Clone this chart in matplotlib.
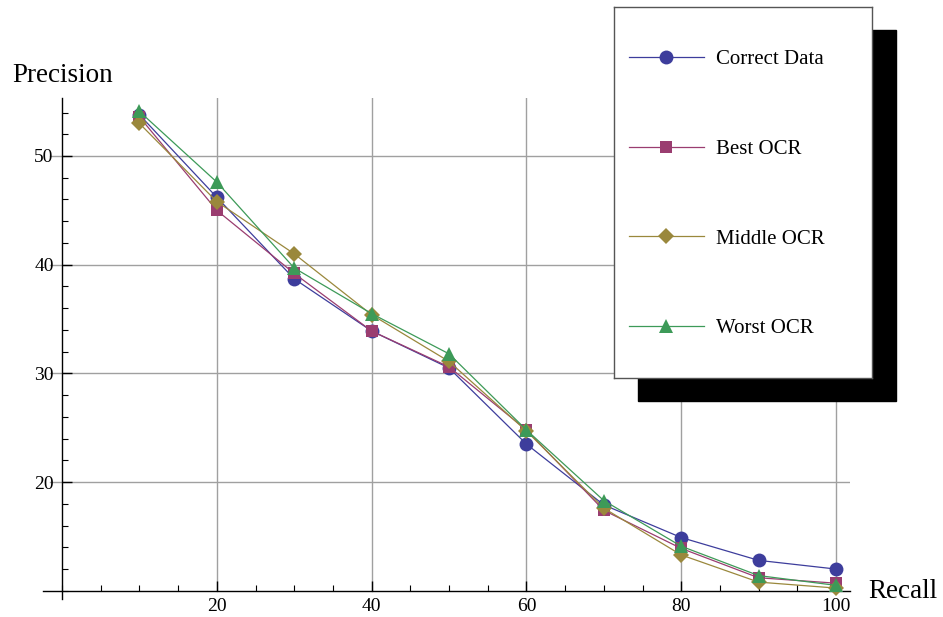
import matplotlib
matplotlib.use("Agg")
import matplotlib.pyplot as plt
from matplotlib.patches import Rectangle
from matplotlib.ticker import MultipleLocator

recall = [10, 20, 30, 40, 50, 60, 70, 80, 90, 100]
correct_data = [53.8, 46.2, 38.7, 33.9, 30.5, 23.5, 17.9, 14.9, 12.8, 12.0]
best_ocr = [53.6, 45.0, 39.2, 33.9, 30.6, 24.8, 17.4, 13.9, 11.2, 10.7]
middle_ocr = [53.0, 45.8, 41.0, 35.4, 31.1, 24.7, 17.6, 13.3, 10.8, 10.25]
worst_ocr = [54.1, 47.6, 39.7, 35.5, 31.8, 24.8, 18.3, 14.1, 11.4, 10.5]

series = [
    ("Correct Data", correct_data, "#3d3d9c", "o", 10),
    ("Best OCR", best_ocr, "#9a3d70", "s", 8),
    ("Middle OCR", middle_ocr, "#9a883c", "D", 8),
    ("Worst OCR", worst_ocr, "#3d9a58", "^", 10),
]

serif = ["Liberation Serif", "DejaVu Serif"]
plt.rcParams["font.family"] = serif

W, H = 943, 617
fig = plt.figure(figsize=(W / 100, H / 100), dpi=100)

xmin, xmax = -2.5, 101.8
ymin, ymax = 9.2, 55.3
def px_x(v):
    return 62 + 7.74 * v
def px_y(v):
    return 156 + (50 - v) * 10.87

left = px_x(xmin) / W
right = px_x(xmax) / W
bottom = 1 - px_y(ymin) / H
top = 1 - px_y(ymax) / H
ax = fig.add_axes([left, bottom, right - left, top - bottom])
ax.set_xlim(xmin, xmax)
ax.set_ylim(ymin, ymax)

# grid
for gx in [20, 40, 60, 80, 100]:
    ax.plot([gx, gx], [10, ymax], color="#a0a0a0", lw=1.0, zorder=0)
for gy in [20, 30, 40, 50]:
    ax.plot([xmin + 1.0, xmax], [gy, gy], color="#a0a0a0", lw=1.0, zorder=0)

for name, vals, col, mk, ms in series:
    ax.plot(recall, vals, color=col, lw=0.9, marker=mk, markersize=ms,
            markeredgewidth=0, label=name, zorder=3)

for s in ["top", "right"]:
    ax.spines[s].set_visible(False)
ax.spines["left"].set_position(("data", 0))
ax.spines["bottom"].set_position(("data", 10))
ax.spines["left"].set_linewidth(1.0)
ax.spines["bottom"].set_linewidth(1.0)

ax.xaxis.set_minor_locator(MultipleLocator(5))
ax.yaxis.set_minor_locator(MultipleLocator(2))
ax.set_xticks([20, 40, 60, 80, 100])
ax.set_yticks([20, 30, 40, 50])
ax.tick_params(axis="both", which="major", direction="in", length=7, width=1.0,
               labelsize=14, pad=6)
ax.tick_params(axis="both", which="minor", direction="in", length=4, width=0.8)
ax.tick_params(axis="x", which="major", pad=5)
for lab in ax.get_xticklabels() + ax.get_yticklabels():
    lab.set_fontfamily(serif)

fig.text(12 / W, 1 - 75 / H, "Precision", fontsize=19.5, va="center", ha="left")
fig.text(868 / W, 1 - 591 / H, "Recall", fontsize=19.5, va="center", ha="left")

# legend box with shadow
fig.patches.append(Rectangle((638 / W, 1 - 401 / H), 258 / W, 371 / H,
                             transform=fig.transFigure, facecolor="black",
                             edgecolor="black", zorder=5))
lax = fig.add_axes([614 / W, 1 - 378 / H, 258 / W, 371 / H], zorder=6)
lax.set_xlim(0, 258)
lax.set_ylim(371, 0)
lax.set_xticks([])
lax.set_yticks([])
for s in lax.spines.values():
    s.set_color("#555555")
    s.set_linewidth(1.0)
handles, labels = ax.get_legend_handles_labels()
leg = lax.legend(handles, labels, loc="upper left",
                 bbox_to_anchor=(-28 / 258, 1.0),
                 frameon=False, handlelength=3.6,
                 handletextpad=0.6, labelspacing=3.36, borderaxespad=0.0,
                 borderpad=2.06, prop={"family": serif, "size": 15})

fig.savefig("out.png", dpi=100)
